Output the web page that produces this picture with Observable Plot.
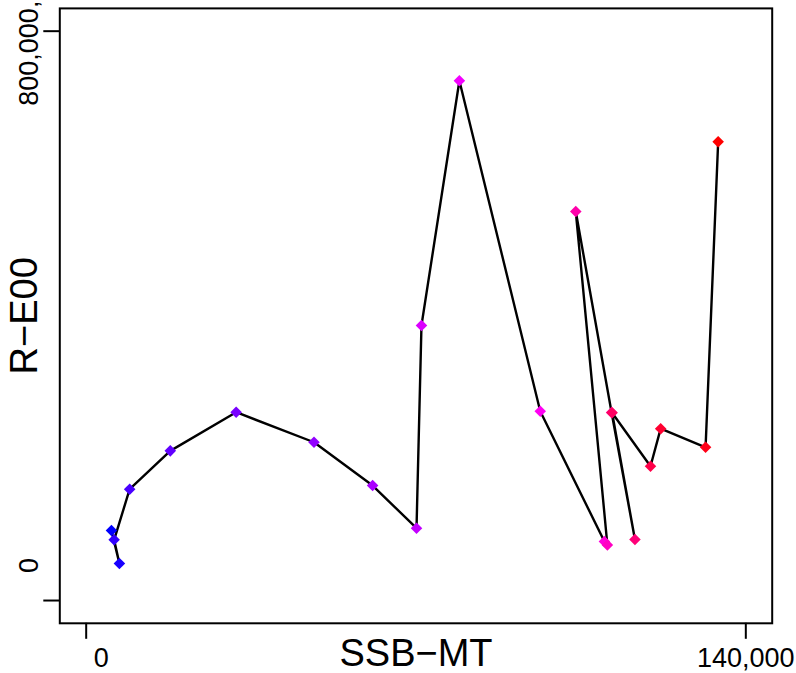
<!DOCTYPE html>
<html>
<head>
<meta charset="utf-8">
<script src="https://cdn.jsdelivr.net/npm/d3@7"></script>
<script src="https://cdn.jsdelivr.net/npm/@observablehq/plot@0.6"></script>
<style>
  html, body { margin: 0; padding: 0; background: #fff; }
</style>
</head>
<body>
<div id="chart"></div>
<script>
// Spawning stock biomass (x) and recruitment (y), in time order
const ssb = [5360, 7050, 5930, 9230, 17850, 31830, 48350, 60790, 70110, 71160, 79210,
             96370, 109990, 110620, 103910, 111510, 116470, 111620, 119770, 121930, 131460, 134130];
const rec = [98400, 52000, 85300, 156400, 210300, 264600, 222400, 161600, 101600, 386400, 730300,
             265900, 82900, 78000, 546600, 264300, 85700, 263800, 188600, 241500, 215300, 644500];

const xTicks = [0, 140000];
const xTickLabels = ["0", "140,000"];
const yTicks = [0, 800000];
const yTickLabels = ["0", "800,000,"];
const xLabel = "SSB\u2212MT";
const yLabel = "R\u2212E00";

const data = ssb.map((s, i) => ({ssb: s, rec: rec[i], idx: i}));
const n = data.length;

const font = "Liberation Sans, Arial, Helvetica, sans-serif";
const tickFont = 27;

const chart = Plot.plot({
  width: 796,
  height: 673,
  marginLeft: 59.3,
  marginRight: 24.3,
  marginTop: 7.9,
  marginBottom: 50.2,
  style: {fontFamily: font, background: "#fff", color: "black"},
  x: {domain: [-5600, 145600], label: null},
  y: {domain: [-32000, 832000], label: null},
  color: {type: "linear", domain: [0, (n - 1) / 2, n - 1], range: ["blue", "magenta", "red"], interpolate: "rgb"},
  marks: [
    Plot.frame({stroke: "black", strokeWidth: 2}),
    Plot.axisX({ticks: xTicks, tickSize: 16, tickFormat: () => "", label: null, stroke: "black", strokeWidth: 2}),
    Plot.axisY({ticks: yTicks, tickSize: 16, tickFormat: () => "", label: null, stroke: "black", strokeWidth: 2}),
    // x tick labels
    Plot.text([0], {x: d => xTicks[d], text: d => xTickLabels[d], frameAnchor: "bottom", dy: 35, dx: 15,
      lineAnchor: "middle", textAnchor: "middle", fontSize: tickFont, fill: "black"}),
    Plot.text([1], {x: d => xTicks[d], text: d => xTickLabels[d], frameAnchor: "bottom", dy: 35,
      lineAnchor: "middle", textAnchor: "middle", fontSize: tickFont, fill: "black"}),
    // y tick labels (rotated)
    Plot.text([0], {y: d => yTicks[d], text: d => yTickLabels[d], frameAnchor: "left", dx: -30, dy: -35,
      rotate: -90, lineAnchor: "middle", textAnchor: "middle", fontSize: tickFont, fill: "black"}),
    Plot.text([1], {y: d => yTicks[d], text: d => yTickLabels[d], frameAnchor: "left", dx: -30, dy: 22,
      rotate: -90, lineAnchor: "middle", textAnchor: "middle", fontSize: tickFont, fill: "black"}),
    // axis titles
    Plot.text([xLabel], {text: d => d, frameAnchor: "bottom", dy: 31, lineAnchor: "middle",
      textAnchor: "middle", fontSize: 38, fill: "black"}),
    Plot.text([yLabel], {text: d => d, frameAnchor: "left", dx: -35, rotate: -90, lineAnchor: "middle",
      textAnchor: "middle", fontSize: 38, fill: "black"}),
    Plot.line(data, {x: "ssb", y: "rec", stroke: "black", strokeWidth: 2.4}),
    Plot.dot(data, {x: "ssb", y: "rec", fill: "idx", symbol: "diamond2", r: 5.2, stroke: "none"})
  ]
});
document.getElementById("chart").appendChild(chart);
</script>
</body>
</html>
